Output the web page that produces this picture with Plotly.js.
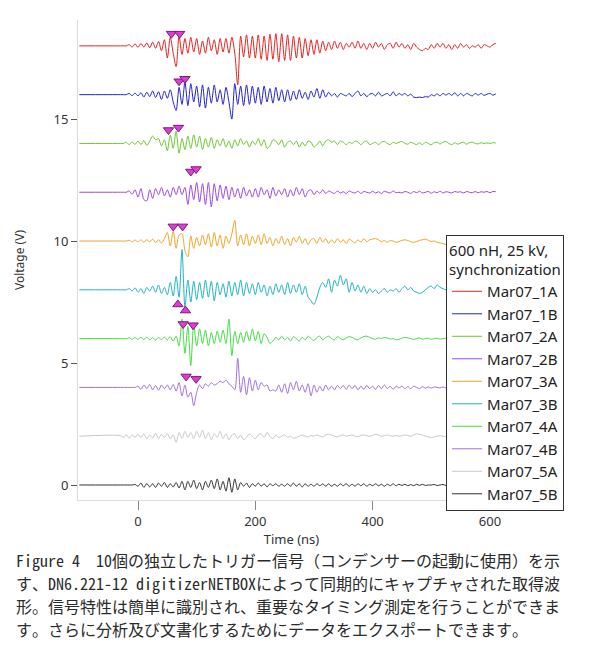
<!DOCTYPE html>
<html>
<head>
<meta charset="utf-8">
<script src="https://cdn.plot.ly/plotly-3.0.1.min.js"></script>
<style>
html,body{margin:0;padding:0;background:#fff;}
#chart{width:603px;height:649px;}
</style>
</head>
<body>
<div id="chart"></div>
<script>
// Time axis (ns)
var time = [-100,-30,-25,-20,-15,-10,-5,
0,5,10,15,20,25,30,35,40,45,
50,55,60,65,70,75,80,85,90,95,
100,105,110,115,120,125,130,135,140,145,
150,155,160,165,170,175,180,185,190,195,
200,205,210,215,220,225,230,235,240,245,
250,255,260,265,270,275,280,285,290,295,
300,305,310,315,320,325,330,335,340,345,
350,355,360,365,370,375,380,385,390,395,
400,405,410,415,420,425,430,435,440,445,
450,455,460,465,470,475,480,485,490,495,
500,505,510,515,520,525,530,535,540,545,
550,555,560,565,570,575,580,585,590,595,
600,605,610];

var names = ["Mar07_1A","Mar07_1B","Mar07_2A","Mar07_2B","Mar07_3A","Mar07_3B","Mar07_4A","Mar07_4B","Mar07_5A","Mar07_5B"];
// vertical offset (V) at which each record is displayed
var offsets = [18,16,14,12,10,8,6,4,2,0];

// signal deviations (V)
var v1A = [0,0,0,0,0.05,-0.05,0.08,
-0.06,0.1,-0.05,0.12,-0.08,0.15,-0.1,0.18,-0.2,0.25,
-0.5,0.35,-0.3,-0.85,0.4,-0.35,0.3,-0.3,0.35,-0.25,
0.3,-0.35,0.2,-0.3,0.35,-0.2,0.25,-0.35,0.3,-0.25,
0.3,-0.3,0.35,-0.3,-1.6,0.4,-0.45,0.45,-0.5,0.4,
-0.5,0.45,-0.55,0.4,-0.6,0.48,-0.55,0.5,-0.65,0.5,
-0.6,0.45,-0.6,0.4,-0.5,0.35,-0.5,0.3,-0.4,0.25,
-0.35,0.25,-0.3,0.2,-0.2,0.15,-0.15,0.2,-0.1,0.15,
-0.15,0.1,-0.05,0.15,-0.1,0.2,-0.1,0.1,-0.15,0.1,
-0.1,0.15,-0.05,0.1,-0.15,0.05,0.1,-0.1,0.15,-0.05,
0.1,-0.1,0.05,-0.15,0.1,-0.05,-0.15,-0.2,-0.1,-0.15,
0.05,-0.1,0.1,-0.05,0.1,-0.1,0.05,-0.15,0.05,-0.1,
0.1,-0.05,0.05,-0.1,0.0,-0.05,0.05,-0.1,0.05,0.0,
-0.05,0.05,0.1];
var v1B = [0,0,0,0,0.05,-0.04,0.06,
-0.05,0.08,-0.1,0.1,-0.08,0.15,-0.12,0.12,-0.2,0.15,
-0.15,0.2,-0.3,-0.65,0.3,-0.4,0.5,-0.45,0.45,-0.3,
0.35,-0.5,0.4,-0.55,0.3,-0.35,0.4,-0.3,0.2,-0.4,
0.3,-0.3,-1.0,0.45,-0.4,0.35,-0.45,0.4,-0.4,0.35,
-0.35,0.3,-0.4,0.35,-0.3,0.25,-0.35,0.3,-0.25,0.2,
-0.3,0.2,-0.25,0.15,-0.2,0.2,-0.15,0.1,-0.2,0.15,
-0.1,0.25,-0.15,0.2,-0.1,0.1,-0.05,0.05,-0.1,0.05,
0.0,-0.05,0.05,-0.08,0.05,0.15,-0.05,0.05,-0.08,0.02,
0.05,-0.05,0.1,-0.05,0.0,0.05,-0.05,0.12,-0.05,0.05,
-0.02,0.05,-0.05,0.02,-0.1,-0.12,-0.1,-0.12,-0.08,-0.1,
0.0,-0.05,0.03,-0.05,0.05,-0.02,0.05,-0.03,0.08,-0.05,
0.05,-0.05,0.05,0.0,-0.05,0.05,-0.02,0.05,-0.03,0.02,
0.05,-0.02,0.03];
var v2A = [0,0,0,0.05,-0.05,0.06,-0.04,
0.1,-0.05,0.12,-0.08,0.1,0.3,0.15,0.2,-0.1,0.15,
-0.3,0.35,-0.2,0.5,-0.4,0.2,-0.25,0.3,-0.2,0.35,
-0.15,0.3,-0.25,0.2,-0.15,0.25,-0.2,0.15,-0.1,0.2,
-0.15,0.1,-0.2,0.15,-0.1,0.2,-0.05,0.1,-0.15,0.1,
-0.05,0.2,-0.1,0.15,-0.2,-0.1,0.15,0.1,-0.05,0.15,
-0.15,0.05,0.1,-0.05,0.1,-0.15,0.05,-0.1,0.1,0.05,
-0.15,-0.05,0.1,-0.1,0.1,0.15,0.05,0.1,-0.05,0.1,
0.05,-0.05,0.05,0.0,0.1,0.05,-0.05,0.05,0.1,-0.05,
0.0,0.05,-0.05,0.05,0.08,0.0,-0.05,0.05,0.0,0.05,
0.08,0.0,-0.03,0.05,0.0,-0.05,0.03,-0.05,0.05,0.0,
-0.05,0.03,0.05,-0.02,0.05,0.08,0.0,-0.05,0.03,-0.03,
0.02,0.05,-0.03,0.03,0.05,0.0,-0.02,0.03,0.0,0.02,
0.0,0.03,0.02];
var v2B = [0,0,0,0,0.05,-0.08,0.1,
-0.2,0.15,-0.3,-0.35,0.1,-0.25,0.15,-0.1,0.2,-0.15,
0.1,-0.2,0.2,-0.1,0.25,-0.1,0.2,-0.5,0.3,-0.3,
0.4,-0.4,0.35,-0.5,0.4,-0.6,0.35,-0.35,0.3,-0.25,
0.25,-0.3,0.2,-0.2,0.15,-0.25,0.2,-0.15,0.1,-0.2,
0.15,-0.2,0.2,-0.1,0.1,-0.25,0.2,-0.15,0.1,-0.1,
0.15,-0.2,0.1,-0.15,0.2,-0.1,0.15,-0.2,0.05,0.1,
-0.1,0.05,-0.05,0.1,-0.05,0.05,0.0,-0.05,0.05,-0.03,
0.02,-0.05,0.05,0.0,-0.03,0.04,-0.05,0.03,0.0,-0.03,
0.04,-0.03,0.02,-0.05,0.04,0.0,-0.03,0.05,-0.02,0.0,
-0.03,0.03,0.0,-0.05,0.03,-0.02,0.04,-0.03,0.0,0.03,
-0.04,0.02,-0.02,0.04,-0.03,0.02,0.0,-0.03,0.03,0.0,
0.02,-0.03,0.03,0.0,-0.02,0.03,-0.02,0.02,0.0,0.03,
-0.02,0.03,0.02];
var v3A = [0,0,0,0,0.03,-0.03,0.04,
-0.03,0.05,-0.05,0.06,-0.04,0.08,-0.06,0.05,-0.08,0.1,
0.35,-0.2,0.4,-0.3,0.25,0.3,-0.4,-0.65,0.2,-0.3,
0.15,-0.2,0.25,-0.15,0.3,-0.25,0.35,-0.2,0.25,-0.3,
0.2,-0.1,0.3,0.85,-0.2,0.25,-0.15,0.3,-0.2,0.2,
-0.1,0.25,-0.15,0.3,-0.1,0.15,-0.2,0.1,-0.1,0.2,
-0.15,0.1,-0.2,0.15,-0.05,0.2,-0.1,0.1,-0.15,0.05,
0.1,-0.1,0.15,-0.05,0.1,-0.1,0.05,-0.08,0.1,-0.05,
0.05,-0.1,0.08,0.0,-0.08,0.05,-0.05,0.1,-0.03,0.05,
0.08,0.1,0.05,-0.03,0.03,-0.05,0.02,0.0,-0.05,-0.02,
0.03,0.05,0.02,-0.03,-0.05,-0.02,0.03,0.05,0.08,0.03,
-0.02,0.0,-0.05,-0.08,-0.1,-0.15,-0.2,-0.15,-0.1,-0.05,
0.0,0.03,-0.02,0.03,0.0,-0.02,0.03,0.0,0.02,0.0,
0.02,-0.02,0.03];
var v3B = [0,0,0,0,0.05,-0.05,0.08,
-0.1,0.05,-0.15,0.1,-0.05,0.15,-0.1,0.2,-0.15,0.1,
-0.2,0.3,-0.25,0.55,-0.3,1.65,-0.7,0.4,-0.5,0.35,
-0.4,0.3,-0.35,0.4,-0.3,0.35,-0.45,0.3,-0.2,0.25,
-0.3,0.35,-0.25,0.3,-0.2,0.4,-0.25,0.3,-0.15,0.25,
-0.2,0.3,-0.1,0.2,-0.25,0.15,-0.2,0.25,-0.1,0.2,
-0.2,0.3,-0.15,0.2,-0.1,0.25,-0.2,0.15,-0.3,-0.45,
-0.6,-0.3,0.1,0.3,0.1,0.45,-0.1,0.4,0.15,0.6,
0.2,0.45,-0.1,0.3,-0.05,0.2,-0.1,0.15,-0.15,0.05,
-0.1,0.0,-0.15,-0.05,0.05,-0.1,0.0,-0.05,0.05,-0.1,
0.05,0.15,0.0,0.1,-0.05,-0.1,-0.15,-0.1,0.0,0.1,
0.15,0.05,0.2,0.1,0.05,0.0,0.05,-0.05,0.0,0.05,
0.0,-0.05,0.05,0.0,-0.03,0.03,0.0,-0.02,0.02,0.0,
0.02,-0.02,0.0];
var v4A = [0,0,0,0,0.03,-0.03,0.04,
-0.03,0.05,-0.04,0.06,-0.05,0.04,-0.06,0.05,-0.04,0.06,
-0.05,0.08,-0.1,0.1,-0.3,0.8,-0.6,0.5,-1.1,0.6,
-0.3,0.4,-0.2,0.35,-0.3,0.25,-0.2,0.3,-0.15,0.35,
-0.2,0.8,-0.7,0.3,-0.2,0.25,-0.15,0.3,-0.1,0.4,
-0.1,0.3,-0.2,0.2,0.05,-0.2,-0.1,0.05,-0.05,0.1,
-0.05,0.05,-0.1,0.08,0.0,-0.1,0.05,-0.05,0.1,0.0,
-0.08,0.05,0.1,-0.05,0.05,0.1,0.0,-0.05,0.08,0.0,
-0.05,0.03,0.08,0.05,-0.02,-0.05,0.03,0.08,0.1,0.05,
0.0,-0.03,0.03,0.0,0.05,0.03,-0.02,0.0,-0.05,-0.03,
0.02,0.05,0.03,0.0,-0.03,0.0,0.03,-0.02,0.0,0.02,
-0.03,0.0,0.02,-0.02,0.0,0.02,0.0,-0.02,0.02,0.0,
0.0,0.02,-0.02,0.0,0.02,0.0,-0.02,0.02,0.0,0.0,
0.02,0.0,0.0];
var v4B = [0,0,0,0,0,0,0,
0.05,-0.08,0.1,-0.05,0.12,-0.1,0.08,-0.12,0.1,-0.05,
0.1,-0.1,0.12,-0.15,0.2,-0.35,0.1,-0.4,-0.2,-0.75,
-0.2,0.1,-0.05,0.15,0.05,0.2,0.1,0.15,0.25,0.2,
0.3,0.15,0.05,-0.1,1.2,-0.2,0.45,-0.3,0.4,-0.15,
0.3,-0.1,0.2,0.05,0.1,-0.15,-0.1,-0.15,0.1,-0.2,
0.15,-0.25,0.2,-0.1,0.25,-0.15,0.1,-0.2,0.15,-0.35,
0.1,-0.2,0.05,-0.15,0.1,-0.1,0.05,-0.1,0.08,-0.05,
0.08,-0.08,0.1,-0.05,0.08,-0.1,0.05,-0.08,0.08,-0.05,
0.05,-0.08,0.08,-0.05,0.1,-0.05,0.05,-0.08,0.05,-0.02,
0.05,-0.05,0.03,-0.05,0.05,0.0,-0.05,0.03,-0.03,0.02,
-0.03,0.02,0.0,-0.02,0.02,-0.02,0.0,0.02,-0.02,0.0,
0.0,0.02,-0.02,0.0,0.02,0.0,-0.02,0.0,0.0,0.02,
0.0,0.0,0.0];
var v5A = [0,0.02,-0.05,0.06,-0.08,0.05,-0.05,
0.08,-0.05,0.1,-0.1,0.05,-0.08,0.12,-0.1,0.08,-0.05,
0.1,-0.1,0.05,-0.25,0.15,-0.1,0.2,-0.05,0.15,-0.1,
0.2,-0.05,0.25,-0.1,0.15,-0.15,0.1,-0.05,0.2,-0.1,
0.1,-0.15,0.05,0.1,-0.1,0.05,-0.15,-0.05,0.1,0.0,
-0.1,0.05,0.1,-0.05,0.15,0.0,-0.1,0.05,-0.05,0.0,
0.05,-0.05,0.0,-0.08,-0.05,0.0,0.05,0.0,-0.03,0.03,
0.0,0.05,0.0,-0.03,0.05,0.08,0.05,0.0,-0.03,0.03,
0.05,0.0,0.03,0.05,0.0,-0.02,0.03,0.05,0.02,0.0,
0.03,0.08,0.05,0.0,0.02,0.05,0.02,0.0,0.03,0.0,
0.02,0.05,0.03,0.0,0.05,0.1,0.08,0.05,0.0,-0.03,
-0.05,-0.03,0.0,0.02,0.0,-0.02,0.02,0.0,0.0,0.02,
0.0,0.02,0.0,-0.02,0.0,0.02,0.0,0.0,0.02,0.0,
0.0,0.02,0.0];
var v5B = [0,0,0,0,0,0,0.02,
-0.05,0.08,-0.1,0.06,-0.08,0.05,-0.1,0.08,-0.05,0.1,
-0.1,0.05,-0.08,0.1,-0.12,0.15,-0.2,0.15,-0.1,0.2,
-0.15,0.1,-0.2,0.15,-0.1,0.2,-0.15,0.25,-0.2,0.15,
-0.25,0.3,-0.3,0.25,-0.2,0.1,-0.05,0.08,-0.1,0.05,
-0.05,0.08,-0.05,0.05,-0.08,0.05,-0.03,0.05,-0.05,0.03,
-0.05,0.05,-0.05,0.08,-0.05,0.05,-0.08,0.05,-0.05,0.03,
-0.05,0.05,-0.03,0.05,-0.05,0.05,-0.05,0.03,-0.05,0.05,
-0.03,0.05,-0.05,0.03,-0.05,0.05,-0.03,0.05,-0.05,0.03,
-0.03,0.05,-0.03,0.03,-0.05,0.03,-0.03,0.05,-0.03,0.03,
-0.02,0.03,-0.03,0.02,-0.03,0.03,-0.02,0.03,-0.02,0.0,
0.0,0.02,-0.02,0.0,0.02,-0.02,0.0,0.0,0.02,0.0,
0.0,0.0,0.02,0.0,-0.02,0.0,0.0,0.02,0.0,0.0,
0.0,0.0,0.0];

// trigger markers (ns, V)
var trigDownX = [57,71, 70,80, 52,69, 90,99, 60,76, 77,94, 82,99];
var trigDownY = [18.5,18.5, 16.55,16.65, 14.55,14.65, 12.85,12.95, 10.6,10.6, 6.6,6.55, 4.45,4.35];
var trigUpX = [68,81];
var trigUpY = [7.4,7.15];

var caption = [
  "Figure 4\u00a0\u00a010個の独立したトリガー信号（コンデンサーの起動に使用）を示",
  "す、DN6.221-12 digitizerNETBOXによって同期的にキャプチャされた取得波",
  "形。信号特性は簡単に識別され、重要なタイミング測定を行うことができま",
  "す。さらに分析及び文書化するためにデータをエクスポートできます。"
];

var series = [v1A,v1B,v2A,v2B,v3A,v3B,v4A,v4B,v5A,v5B];
var colors = ["#e8201c","#2222d0","#6cc830","#9848e0","#f0a428","#20b4c0","#40e040","#a070e0","#c8c8c8","#303030"];

var traces = [];
for (var i = 0; i < series.length; i++) {
  var ys = series[i].map(function(d){ return d + offsets[i]; });
  traces.push({
    x: time, y: ys, type: "scatter", mode: "lines", name: names[i],
    line: {color: colors[i], width: 1, shape: "spline", smoothing: 0.8}, hoverinfo: "skip"
  });
}
traces.push({
  x: trigDownX, y: trigDownY, type: "scatter", mode: "markers", showlegend: false,
  marker: {symbol: "triangle-down", size: 9, color: "#e03cd4", line: {color: "#7a1a7a", width: 1}}
});
traces.push({
  x: trigUpX, y: trigUpY, type: "scatter", mode: "markers", showlegend: false,
  marker: {symbol: "triangle-up", size: 9, color: "#e03cd4", line: {color: "#7a1a7a", width: 1}}
});

// caption line centres (paper fraction below the plot area)
var capY = [-0.125,-0.1729,-0.2208,-0.2688];
var annotations = caption.map(function(t, k){
  return {
    text: t, xref: "paper", yref: "paper", x: -0.1499, y: capY[k],
    xanchor: "left", yanchor: "middle", showarrow: false,
    font: {family: "Noto Sans Mono CJK JP, Noto Sans CJK JP, sans-serif", size: 16, color: "#2a2a2a"}
  };
});

var layout = {
  width: 603, height: 649,
  margin: {l: 78, r: 98, t: 20, b: 149},
  paper_bgcolor: "#fff", plot_bgcolor: "#fff",
  font: {family: "Noto Sans, sans-serif", size: 13, color: "#333"},
  showlegend: true,
  xaxis: {
    range: [-102.3, 625.7], showgrid: false, zeroline: false,
    showline: true, linecolor: "#dcdcdc", linewidth: 1,
    ticks: "outside", ticklen: 9, tickcolor: "#888", tickwidth: 1,
    tickvals: [0,200,400,600],
    tickfont: {size: 13, color: "#333"},
    title: {text: "Time (ns)", font: {size: 13, color: "#333"}, standoff: 3}
  },
  yaxis: {
    range: [-0.615, 19.06], showgrid: false, zeroline: false,
    showline: true, linecolor: "#dcdcdc", linewidth: 1,
    ticks: "outside", ticklen: 6, tickcolor: "#555", tickwidth: 1,
    tickvals: [0,5,10,15],
    tickfont: {size: 13, color: "#333"},
    title: {text: "Voltage (V)", font: {size: 12, color: "#333"}, standoff: 26}
  },
  legend: {
    x: 0.862, y: 0.552, xanchor: "left", yanchor: "top",
    bgcolor: "#fff", bordercolor: "#333", borderwidth: 1,
    font: {family: "Noto Sans, sans-serif", size: 15, color: "#222"},
    title: {text: "600 nH, 25 kV,<br>synchronization", font: {size: 15, color: "#222"}},
    itemwidth: 30
  },
  annotations: annotations
};

Plotly.newPlot("chart", traces, layout, {displayModeBar: false, staticPlot: true});
</script>
</body>
</html>
